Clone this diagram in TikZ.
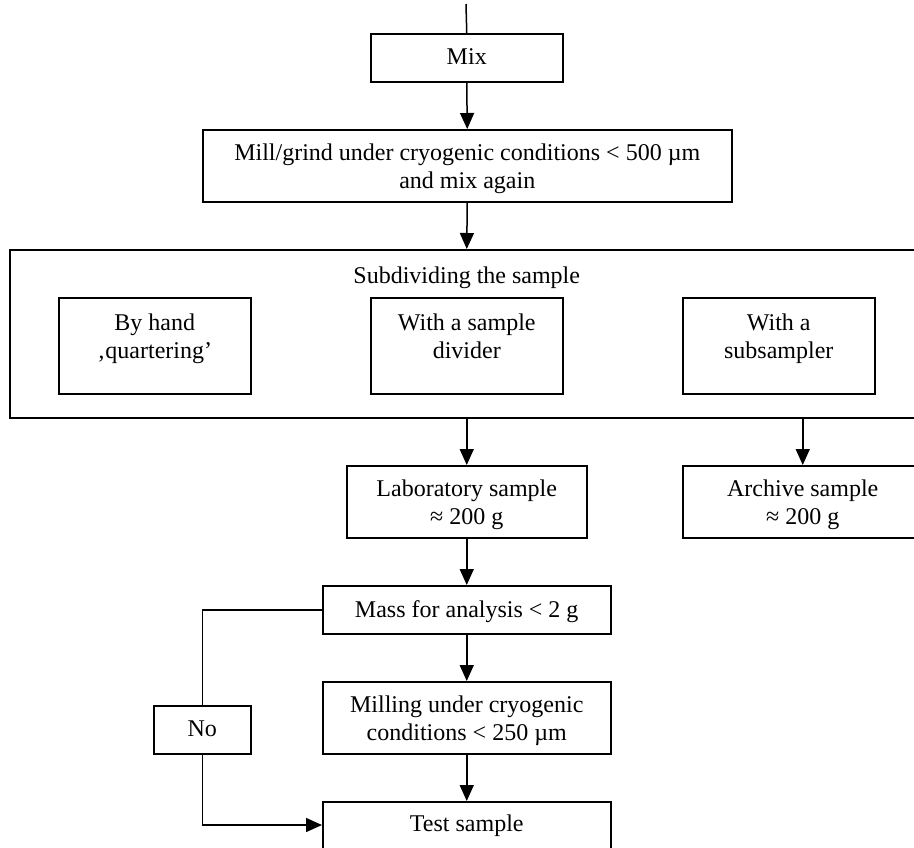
\documentclass[tikz,border=0pt]{standalone}
\usepackage{fontspec}
\setmainfont{Liberation Serif}
\usetikzlibrary{arrows.meta}
\newcommand\bt[4]{\parbox[t][#2pt][t]{#1pt}{\centering\rule{0pt}{#3pt}#4}}
\begin{document}
\begin{tikzpicture}[x=1pt,y=-1pt,
  fb/.style={draw, line width=1.5pt, inner sep=0pt, anchor=north west, font=\fontsize{24}{28}\selectfont},
  ar/.style={line width=1.5pt, -{Triangle[length=16pt,width=14pt]}},
  ln/.style={line width=1.5pt}]
\useasboundingbox (0,0) rectangle (914,847);
\coordinate (top) at (466,4);
\node[fb] (mix) at (370,33) {\bt{192}{48}{31}{Mix}};
\node[fb] (mill) at (202,129) {\bt{529}{72}{31}{Mill/grind under cryogenic conditions < 500 µm\\and mix again}};
\node[fb] (outer) at (9,249) {\bt{914}{168}{34}{Subdividing the sample}};
\node[fb] (hand) at (58,297) {\bt{192}{96}{33}{By hand\\‚quartering’}};
\node[fb] (divider) at (370,297) {\bt{192}{96}{33}{With a sample\\divider}};
\node[fb] (subs) at (682,297) {\bt{192}{96}{33}{With a\\subsampler}};
\node[fb] (lab) at (346,465) {\bt{240}{72}{31}{Laboratory sample\\≈ 200 g}};
\node[fb] (arch) at (682,465) {\bt{240}{72}{31}{Archive sample\\≈ 200 g}};
\node[fb] (mass) at (322,585) {\bt{288}{48}{32}{Mass for analysis < 2 g}};
\node[fb] (milling) at (322,681) {\bt{288}{72}{31}{Milling under cryogenic\\conditions < 250 µm}};
\node[fb] (test) at (322,801) {\bt{288}{72}{30}{Test sample}};
\node[fb] (no) at (153,705) {\bt{97}{48}{31}{No}};
\draw[ln] (top) -- (mix.north);
\draw[ar] (mix.south) -- (mill.north);
\draw[ar] (mill.south) -- (outer.north);
\draw[ar] (outer.south) -- (lab.north);
\draw[ar] (arch.north |- outer.south) -- (arch.north);
\draw[ar] (lab.south) -- (mass.north);
\draw[ar] (mass.south) -- (milling.north);
\draw[ar] (milling.south) -- (test.north);
\draw[ln] (mass.west) -| (no.north);
\draw[ar] (no.south) |- (test.west |- 0,825);
\end{tikzpicture}
\end{document}
